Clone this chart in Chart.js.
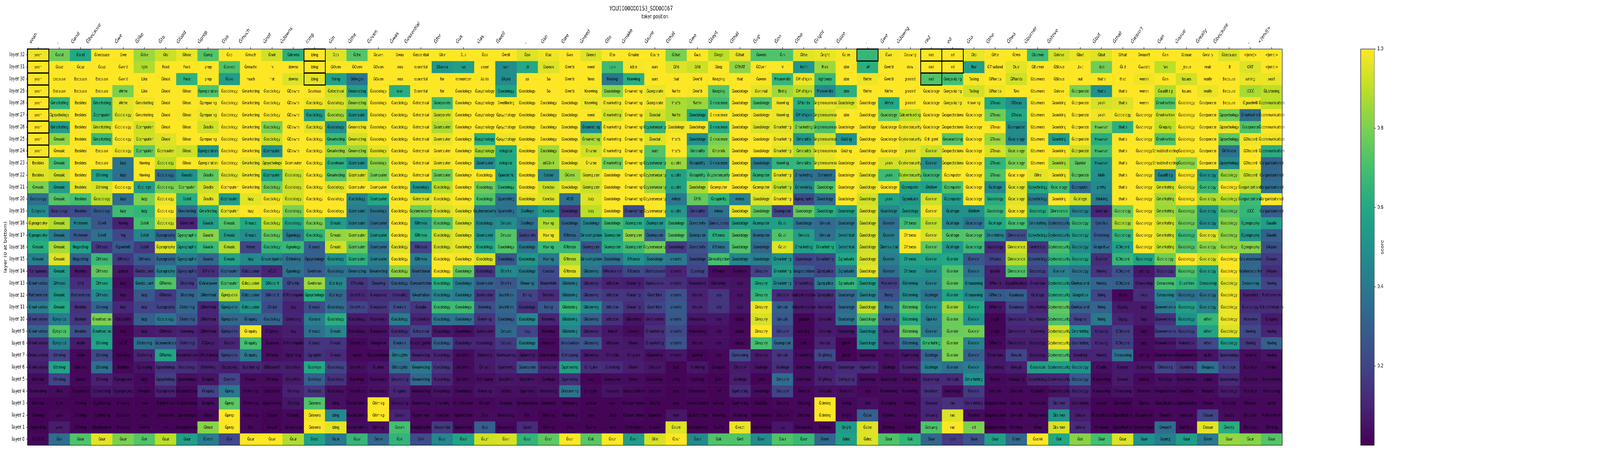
<!DOCTYPE html>
<html><head><meta charset="utf-8">
<style>html,body{margin:0;padding:0;background:#fff;overflow:hidden}#fig{position:absolute;left:0;top:0;width:5900px;height:1155px;transform-origin:0 0}canvas{position:absolute;top:0}</style>
<script src="https://cdn.jsdelivr.net/npm/chart.js@4"></script>
</head><body>
<div id="fig">
<canvas id="main" width="4830" height="1155" style="left:0;width:4830px;height:1155px"></canvas>
<canvas id="cbar" width="1070" height="1155" style="left:4830px;width:1070px;height:1155px"></canvas>
</div>
<script>
document.getElementById('fig').style.transform=`scaleX(${Math.min(1,window.innerWidth/5900)})`;
const titleText="YOU1000000153_S0000067";
const xTitle="token position";
const yTitle="layer (0 at bottom)";
const cbarTitle="score";
const xTokens=["yeah",".","Ġand","Ġbecause","Ġwe","Ġlike","Ġto","Ġfood","Ġprep","Ġso","Ġmuch","Ġnot","Ġdowns","izing","Ġin","Ġthe","Ġoven","Ġwas","Ġessential","Ġfor","Ġus","Ġas","Ġwell",".","Ġso","Ġwe","Ġneed","Ġto","Ġmake","Ġsure","Ġthat","Ġwe","Ġkept","Ġthat","Ġup","Ġon","Ġthe","Ġright","Ġsize",".","Ġwe","Ġdowng","rad","ed","Ġto","Ġthe","Ġtwo","Ġburner","Ġstove",".","Ġbut","Ġthat","Ġwasn't","Ġan","Ġissue","Ġreally","Ġbecause",".","<|end|>"];
const layers=[32,31,30,29,28,27,26,25,24,23,22,21,20,19,18,17,16,15,14,13,12,11,10,9,8,7,6,5,4,3,2,1,0];
// cells where the top token matches the input: [column, layer]
const boxedCells=[[0,32],[0,31],[0,30],[0,29],[0,28],[0,27],[0,26],[0,25],[0,24],[13,32],[13,31],[13,30],[39,32],[42,32],[42,31],[42,30],[43,32],[43,31]];

// each column lists layer 32 down to layer 0
const t00=["yeah","yeah","yeah","yeah","yeah","yeah","yeah","yeah","yeah","Besides","Besides","Ġmusic","Ġsociology","Ġphysics","Ġgeography","Ġgeography","Ġmusic","Ġmusic","Companies","Ġmotivation","Furthermore","Ġmotivation","Ġmotivation","Ġmotivation","Ġmotivation","Ġmotivations","Ġmotivation","Ġmorals","Ġreasoning","Ġmorals","Ġtiming","Regarding",".ĊĊĊĊĊĊ"];
const s00=[.98,1,1,1,1,1,1,1,.99,.97,.95,.8,.37,.48,.93,.58,.62,.42,.14,.3,.27,.42,.2,.32,.1,.1,.08,.03,.04,.01,.01,.01,.02];
const t01=["Ġand","Ġcuz","because","Because","Ġmarketing","Ġpsychology","Ġmarketing","Ġmusic","Ġmusic","Ġmusic","Ġmusic","Ġmusic","Ġmusic","Ġsociology","Ġmusic","Ġmusic","Ġmusic","Ġmusic","Ġmusic","Ġfitness","Ġmusic","Ġmusic","Ġphysics","Ġphysics","Ġphysics","Ġtiming","Ġtiming","Ġtiming","Ġtax","Und","yeah","yeah","Ġsk"];
const s01=[.78,1,1,1,.65,.95,.55,.83,1,.7,.93,.55,.73,.2,.88,.4,.87,.95,.55,.48,.52,.6,.42,.72,.43,.2,.58,.2,.03,.01,.02,.08,.35];
const t02=["Ġand","Ġcuz","Because","Because","Besides","Besides","Besides","Besides","Besides","Besides","Besides","Besides","Besides","Besides","Moreover","Moreover","Regarding","Regarding","Besides","Und","Furthermore","Besides","Besides","Besides","Aside","Aside","Ġatomic","Ġaudio","Ġargument","Ġtiming","Ġtiming","Ġtiming","Ġsur"];
const s02=[.6,1,1,1,1,1,1,1,1,1,1,.96,.7,.23,.43,.27,.57,.31,.07,.13,.2,.14,.15,.24,.07,.02,.02,.02,.01,.01,.01,.01,.72];
const t03=["Ġbecause","Ġcuz","Because","Because","Ġmarketing","Ġcomputer","Ġmarketing","Ġmarketing","Because","Because","Ġtiming","Ġtiming","Ġsociology","Ġsociology","Ġcivil","Ġcivil","Ġfitness","Ġfitness","Ġfitness","Ġfitness","Ġfitness","Ġtiming","Ġmotivation","Ġmotivation","Ġtiming","Ġtiming","Ġtiming","Ġtiming","Ġreasoning","Ġgathering","Ġgathering","Ġjustification","Ġsur"];
const s03=[1,1,1,1,.64,.64,.92,.68,1,1,.55,.94,.9,.28,.27,.37,.16,.67,.75,.6,.47,.32,.8,.56,.58,.22,.36,.09,.06,.01,.01,.01,.96];
const t04=["Ġwe","Ġwe'd","Ġwe'd","We're","We're","Ġsociology","Ġsociology","Ġsociology","Ġsociology","lazy","lazy","Ġsociology","lazy","lazy","Having","fog","Ġgoodwill","Ġfitness","quisite","lazy","lazy","lazy","Ġstupidity","lazy",">ĊĊĊ","Ġpacking","Besides","Ġgeography","Ġgeography","Knowing","Because","Because","Ġsur"];
const s04=[1,1,1,.8,.96,.95,1,1,.98,.38,.36,1,.35,.68,.09,.21,.28,.16,.06,.03,.05,.11,.06,.01,.01,.01,.02,.05,.05,.01,.01,.01,.8];
const t05=["Ġlike","light","Like","Like","Ġmarketing","Ġmarketing","Ġcomputer","Ġcomputer","Ġcomputer","Having","Having","Ġcollege","lazy","lazy","Ġcivil","Ġcivil","Ġcivil","Ġfitness","Ġrestaurant","Ġrestaurant","lazy","lazy","lazy","lazy","Ġlistening","Ġlistening","Ġplanning","lazy","Ġinquiry","poor","only","Ġwe're","Ġsk"];
const s05=[.85,.88,1,1,.98,1,.92,.93,.75,1,1,.55,.8,.65,.7,.45,.17,.28,.17,.41,.27,.2,.3,.07,.36,.1,.05,.02,.02,.01,.01,.01,.73];
const t06=["Ġto","Food","Ġfood","Ġfood","Ġfood","Ġfood","Ġfood","Ġfood","Ġcomputer","Ġsociology","Ġsociology","Ġsociology","Ġsociology","Ġsociology","Ġsociology","Ġgeography","Ġgeography","Ġgeography","Ġgeography","ĠFlorida","ĠFlorida","Ġgeography","Ġsociology","ĠFlorida","Ġconvenience","ĠFlorida","Ġpsychology","Ġpsychology","Ġgeography","Ġdefinitions","Ġresearch","like","Ġsur"];
const s06=[.92,1,1,1,1,1,1,.95,.94,.9,.36,.8,.97,1,.93,.3,.95,.33,.45,.72,.17,.2,.38,.08,.3,.58,.15,.18,.09,.01,.01,.01,.9];
const t07=["Ġfood","Food","Food","Ġfood","Ġfood","Ġfood","Ġfood","Ġfood","Ġfood","Ġfood","Ġaudio","Ġcomputer","Ġcivil","Ġmarketing","Ġinternet","Ġgeographic","Ġgeographic","Ġgeographic","Ġgeographic","Ġhearing","Ġhearing","Ġlistening","Ġlistening","Ġviewing","Ġlistening","Ġexpectations","Ġsociology","Ġpsychology","Ġexpectations","Ġmotivations","Ġprotections","Ġexpectations","Ġsur"];
const s07=[.97,1,.64,1,1,.99,1,1,.92,1,.5,.8,.62,.35,.1,.7,.58,.42,.22,.18,.32,.33,.27,.09,.16,.07,.13,.04,.02,.01,.01,.01,.56];
const t08=["Ġprep","prep","prep","Ġpreparation","Ġpreparing","Ġpreparing","Ġradio","Ġpreparing","Ġpreparation","Ġpreparation","Ġradio","Ġradio","Ġradio","Ġmarketing","Ġaudio","Ġaudio","Ġaudio","Ġaudio","ĠMiami","ĠVancouver","ĠMontreal","ĠMontreal","ĠMontreal","ĠMontreal","ĠDjango","ĠProvidence","Ġthinking","Ġinquiry","Ġinquiry","Ġinquiry","Ġfood","Ġfood","Ġsemi"];
const s08=[.73,1,1,.72,.99,.97,.93,1,.53,.98,.75,.93,.96,.63,.55,.82,.67,.33,.13,.38,.36,.1,.1,.07,.08,.05,.09,.05,.2,.04,.02,.82,.42];
const t09=["Ġso","Ġsoooo","Ġsoo","Ġsociology","Ġsociology","Ġsociology","Ġsociology","Ġsociology","Ġsociology","Ġsociology","Ġsociology","Ġcomputer","Ġcomputer","Ġcomputer","Ġmusic","Ġmusic","Ġmusic","Ġmusic","Ġcomputer","Ġcomputer","Ġprejudice","Ġprejudice","Ġprejudice","Ġprejudice","Ġsocial","Ġprejudice","Ġcustoms","Ġsenior","Ġprep","Ġprep","Ġprep","Ġprep","Ġsk"];
const s09=[1,.72,.55,1,1,1,1,1,1,1,.96,1,.55,.97,.72,.55,.88,.57,.32,.7,.88,.43,.33,.2,.1,.22,.08,.2,.4,.74,1,1,.22];
const t10=["Ġmuch","Ġmucho","much","Ġmarketing","Ġmarketing","Ġmarketing","Ġmarketing","Ġmarketing","Ġmarketing","Ġmarketing","Ġmarketing","Ġmarketing","lazy","lazy","Ġmusic","Ġmusic","Never","lazy","Ġdiscussion","Ġdiscussion","Ġdiscussion","Ġdiscussion","Ġinquiry","Ġinquiry","Ġinquiry","Ġinquiry","Ġgathering","Ġmusic","Ġlistening","Ġlistening","Ġlistening","Ġso","Ġsur"];
const s10=[1,1,1,1,1,1,1,1,1,.97,.98,1,.96,1,.6,.48,.2,.47,.18,.9,.38,.52,.33,.99,.7,.4,.1,.03,.03,.02,.02,.02,1];
const t11=["Ġnot","'n","not","Ġsociology","Ġsociology","Ġsociology","Ġsociology","Ġsociology","Ġcomputer","Ġpsychology","Ġcomputer","Ġsociology","Ġsociology","Ġsociology","Ġsociology","Ġsociology","Ġsociology","Ġinvestigation",">ĊĊĊ","ĠDiscord","ĠDiscord","ĠRuby","Ġsociology","ĠDjango","ĠLaravel","ĠFlorida","ĠElizabeth","ĠFlorida","Ġstupidity","dependency","ĠMuch","Ġmuch","Ġsur"];
const s11=[.93,1,1,1,1,1,.8,.92,.5,.94,.58,.78,.98,1,.9,.76,.65,.45,.1,.55,.25,.23,.32,.06,.04,.04,.08,.03,.02,.02,.01,.01,1];
const t12=["Ġdowns","downs","downs","ĠDowns","ĠDowns","ĠDowns","ĠDowns","ĠDowns","ĠDowns","Ġcomputer","Ġsociology","Ġsociology","Ġsociology","Ġsociology","Ġsociology","Ġgeology","Ġgeology","Ġthinking","Ġgeology","ĠFlorida","ĠMinneapolis","lazy","Ġlistening","lazy","ĠMinneapolis","Ġplanning","Ġnutrition","Ġnutrition","Ġtiming","Ġtiming","Ġinquiry","Ġreasoning","Ġsur"];
const s12=[.63,1,.95,1,1,1,1,1,1,1,.92,.93,.93,.8,.6,.4,.67,.37,.38,.22,.13,.09,.1,.08,.06,.05,.08,.07,.09,.06,.02,.02,.88];
const t13=["izing","izing","izing","Ġcurious","Ġsociology","Ġsociology","Ġsociology","Ġsociology","Ġsociology","Ġsociology","Ġsociology","Ġsociology","Ġsociology","Ġsociology","Ġsociology","Ġsociology","Ġmusic","Ġpsychology","Ġveteran","Ġveteran","Ġpsychology","Ġmusic","Ġproud","Ġmusic","Ġmusic","Ġgraphic","Ġcollege","Ġcollege","Ġcollege","Ġdowns","Ġdowns","Ġdowns","Ġdec"];
const s13=[1,1,.96,1,.98,.55,.96,1,1,1,1,1,1,1,.8,.65,.3,.3,.3,.85,.62,.23,.42,.37,.15,.14,.6,.3,.15,.72,.98,1,.57];
const t14=["Ġon","ĠOven","Being","Ġelectrical","Ġsociology","Ġsociology","Ġsociology","Ġmarketing","Ġmarketing","Ġhardware","Ġmarketing","Ġsociology","Ġsociology","Ġsociology","Ġmusic","Ġmusic","Ġmusic","Ġsociology","Ġsociology","Ġcollege","Ġcollege","Ġsociology","Ġsociology","Ġmusic","Ġmusic","Ġmusic","Ġsociology","Ġsociology","Ġsociology","ising","izing","izing","Ġsur"];
const s14=[.95,1,.57,.93,.95,.87,.5,.68,.85,.63,.73,.95,1,1,.55,.84,.93,.5,.37,.46,.33,.35,.62,.45,.15,.12,.2,.14,.04,.04,.45,.96,.4];
const t15=["Ġthe","ĠOven","ĠOregon","Ġmarketing","Ġmarketing","Ġcomputer","Ġmarketing","Ġmarketing","Ġmarketing","Ġcomputer","Ġcomputer","Ġcomputer","Ġsociology","Ġcomputer","Ġcomputer","Ġcomputer","Ġcomputer","Ġcomputer","Ġmarketing","ĠFlorida","Ġnutrition","Ġnutrition","Ġsociology","Ġsociology","Ġnutrition","pector","Ġnutrition","Ġgeology","Ġnutrition","Ġexpectations","Ġexpectations","Ġexpectations","Ġsur"];
const s15=[.73,1,.38,.55,.85,.52,.98,.94,.85,.5,.93,1,.45,.42,.43,.85,.75,.63,.37,.15,.11,.2,.07,.04,.02,.02,.04,.02,.02,.02,.02,.03,.66];
const t16=["Ġoven","ĠOven","ĠOven","Ġsociology","Ġsociology","Ġsociology","Ġsociology","Ġsociology","Ġsociology","Ġsociology","Ġcomputer","Ġcomputer","Ġcomputer","Ġsociology","Ġcomputer","Ġcomputer","Ġcomputer","Ġcomputer","Ġmarketing","Ġhearing","Ġprejudice","Ġprejudice","Ġsociology","Ġprejudice","Ġlongtime","Ġconvenience","Ġjunior","Ġsociology","Ġsociology","Ġtiming","Ġtiming","Ġtiming","Ġrem"];
const s16=[1,1,1,1,1,1,1,1,.96,.83,.8,1,.6,.38,.36,.52,.36,.43,.37,.2,.13,.15,.08,.04,.04,.02,.06,.04,.04,1,1,.04,.33];
const t17=["Ġwas",".was",".was","was","Ġsociology","Ġsociology","Ġsociology","Ġsociology","Ġsociology","Ġsociology","Ġsociology","Ġsociology","Ġsociology","Ġsociology","Ġsociology","Ġsociology","Ġsociology","Ġsociology","Ġsociology","Ġsociology","Ġmorality","Ġmorals","Ġsociology","Ġsociology","Ġmorals","Ġthoughts","Ġthoughts","Ġreasoning","Ġinquiry","Ġreasoning","Ġoven","Ġoven","Ġsk"];
const s17=[1,1,1,.62,1,1,1,1,1,1,1,1,1,1,1,1,.96,1,.83,.3,.14,.24,.42,.14,.28,.4,.35,.13,.1,.06,.1,.7,.65];
const t18=["Ġessential","essential","essential","Essential","Ġelectrical","Ġelectrical","Ġelectrical","Ġelectrical","Ġelectrical","Ġelectrical","Ġelectrical","Ġsociology","Ġelectrical","Ġcybersecurity","Ġfitness","Ġfitness","Ġfitness","Ġfitness","Ġnutritional","Ġpresentation","ĠAustralian","Ġaudio","Ġmotivation","Ġelectrical","Ġinvestigation","Ġmarketing","Ġmarketing","Ġmarketing","Ġmarketing","Ġmarketing","Ġgrammar","Ġregistration","Ġrel"];
const s18=[1,1,1,1,1,1,1,1,1,1,1,.52,.95,.78,.52,.62,.2,.42,.33,.3,.33,.15,.1,.2,.06,.1,.4,.33,.03,.03,.02,.02,.23];
const t19=["Ġfor","ĠSauna","for","for","Ġcorporate","Ġcorporate","Ġcomputer","Ġcomputer","Ġcomputer","Ġcomputer","Ġcomputer","Ġsociology","Ġsociology","Ġsociology","Ġsociology","Ġsociology","Ġsociology","Ġsociology","Ġsociology","Ġsociology","Ġsociology","Ġsociology","Ġsociology","Ġsociology","Ġsociology","Ġsociology","Ġsociology","Ġsociology","Ġsociology","Ġmorality","Essential","Ġessential","Ġsur"];
const s19=[1,.52,1,1,.68,.93,.88,.97,1,.98,.78,.9,.98,.95,.73,.93,.94,1,1,.62,.45,.68,.38,.06,.3,.1,.15,.1,.05,.03,.02,.17,.45];
const t20=["Ġus","(us","remember","Ġsociology","Ġsociology","Ġsociology","Ġsociology","Ġsociology","Ġsociology","Ġsociology","Ġsociology","Ġsociology","Ġsociology","Ġsociology","Ġsociology","Ġsociology","Ġsociology","Ġsociology","Ġsociology","Ġsociology","Ġsociology","Ġsociology","Ġsociology","Ġsociology","Ġsociology","Ġnutrition","Ġnutrition","Ġnutrition","Ġsociology","Ġjustification","Ġprotection","Ġprotection","Ġsur"];
const s20=[1,.55,1,1,1,1,1,1,1,1,1,1,1,.97,.94,.96,.96,.99,.75,.42,.42,.68,.37,.04,.1,.03,.03,.03,.03,.02,.02,.02,.58];
const t21=["Ġas","asser","Aside","Ġpsychology","Ġpsychology","Ġpsychology","Ġpsychology","Ġpsychology","Ġpsychology","Ġcomputer","Ġsociology","Ġsociology","Ġsociology","Ġcybersecurity","Ġsociology","Ġcomputer","Ġsociology","Ġsociology","Ġsociology","Ġcomputer","Ġcomputer","Knowing","Ġviewing","Ġcomputer","Ġsociology","Ġlistening","Ġmusic","Ġshopping","Ġviewing","Ġforum","Ġus","Ġus","Ġsur"];
const s21=[1,1,1,1,1,1,1,.62,.87,.47,1,.77,.72,.42,.45,.5,.6,.94,.15,.3,.15,.24,.15,.08,.1,.07,.07,.04,.05,.02,.03,.3,.93];
const t22=["Ġwell","well","ĠKylie","Ġsociology","Ġwellbeing","Ġpsychology","Ġpsychology","Ġpsychology","rological","rological","Ġpediatric","Ġsociology","Ġparenting","Ġparenting","Ġmusic","Ġmusic","Ġsociology","Ġsociology","Ġhortic","Ġhortic","Ġnutrition","Ġnutrition","Ġsociology","Ġmusic","Ġmusic","Ġnetworking","Ġgathering","Ġnutrition","Ġethics","Ġcollege","Ġreasoning","Ġreasoning","Ġsur"];
const s22=[1,.48,.48,.58,1,1,1,.98,.6,.6,.55,.66,.38,.37,.48,.73,.72,.27,.47,.27,.33,.33,.3,.33,.17,.1,.1,.06,.04,.03,.03,.02,.94];
const t23=["Ġso",".O","so","Ġsociology","Ġsociology","Ġsociology","Ġsociology","Ġsociology","Ġsociology","Ġsociology","Ġsociology","Ġsociology","Ġsociology","Ġcollege","Ġcollege","Ġcorporate","Ġsociology","Ġsociology","Ġsociology","Ġhearing","Being","Ġsociology","Ġsociology","lazy","Ġsociology","Ġplanning","Ġcomputer","Ġnutrition","Ġgenetics","Ġcompetence","Well","Ġwell","Ġsur"];
const s23=[.95,.6,1,1,1,1,1,1,1,1,1,1,.97,.45,.37,.22,.4,.52,.42,.38,.2,.14,.45,.2,.42,.07,.28,.05,.04,.02,.02,.12,.65];
const t24=["Ġso","Ġsoooo","So","So","Ġsociology","Ġsociology","Ġsociology","Ġsociology","Ġsociology","æīĢä»¥","Conse","Conclus","Conclus","Conclus","Having","Having","Having","Having","Conclus","Meanwhile","Besides","Being","Knowing","Knowing","Moreover","Ġelectronics","Ġcomputer","Ġcollege","Ġreasoning","Ġsleeping","Ġtiming","Ġtiming","Ġsur"];
const s24=[.98,.95,1,1,1,1,1,1,.86,.85,.43,.92,.95,.57,.88,.97,.67,.4,.23,.2,.12,.27,.1,.03,.02,.03,.1,.04,.05,.02,.01,.01,.75];
const t25=["Ġwe","Ġwe'd","Ġwe'd","Ġwe'd","Ġsociology","Ġsociology","Ġsociology","Ġsociology","Ġsociology","Ġsociology","ĠGeek","Ġsociology","VOID","Ġsociology","Ġsociology","Ġfitness","Ġfitness","Ġfitness","Ġfitness","Ġlistening","Ġlistening","Ġlistening","Ġlistening","Ġlistening","Ġmotivation","Ġshopping","Ġgathering","Ġgathering","Ġreasoning","Ġlistening","Ġlistening","Ġso","Ġsur"];
const s25=[1,1,1,1,1,1,1,1,1,.98,.85,.97,.37,.15,.33,.33,.67,.88,.95,.42,.42,.66,.5,.45,.25,.2,.55,.13,.38,.02,.02,.01,1];
const t26=["Ġneed","need","Need","Knowing","Knowing","need","Ġmarketing","Ġmarketing","Ġnurse","Ġnurse","Ġcomputer","Ġcomputer","lazy","lazy","Ġsociology","Ġinvestigation","Ġcomputer","Ġinvestigation","Ġlistening","Ġlistening","Ġlistening","Ġlistening","Ġlistening","Ġlistening","Ġlistening","Ġlistening","Ġinquiry","lazy","Ġinquiry","without","you","Ġwe're","Ġsk"];
const s26=[.95,1,1,.99,.97,1,.5,.87,.93,.98,.95,.92,.95,.9,.45,.47,.25,.42,.38,.15,.2,.47,.3,.12,.27,.07,.13,.01,.02,.01,.01,.01,.74];
const t27=["Ġto","luck","Making","Ġsociology","Ġmarketing","Ġmarketing","Ġmarketing","Ġmarketing","Ġmarketing","Ġmarketing","Ġsociology","Ġsociology","Ġsociology","Ġsociology","Ġsociology","Ġcomputer","Ġcomputer","Ġsociology","ĠProvidence","stitution","stitution","stitution","stitution","itated","ĠDenver","ĠFlorida","Ġthinking","Ġcomputer","Ġinquiry","look","need","need","Ġsur"];
const s27=[1,.68,.4,.82,.98,.93,1,1,1,.78,1,1,1,1,.68,.58,.62,.37,.16,.09,.16,.22,.13,.06,.07,.07,.12,.03,.05,.01,.01,.01,1];
const t28=["Ġmake","ickle","Knowing","Ġmarketing","Ġmarketing","Ġmarketing","Ġmarketing","Ġmarketing","Ġmarketing","Ġmarketing","Ġmarketing","Ġmarketing","Ġmarketing","Ġmarketing","Ġcomputer","Ġcomputer","Ġcomputer","Ġfitness","Ġfitness","Ġhearing","Ġhearing","Ġhearing","Ġlistening","ometric","Ġhotel","Ġinquiry","Ġhotel","Ġhotel","Ġexpectations","Ġassumptions","Ġassumptions","Ġdefinitions","Ġsur"];
const s28=[1,.99,.63,1,1,1,1,1,1,1,1,1,1,.23,.62,.83,.68,.5,.22,.08,.15,.13,.05,.03,.06,.07,.08,.03,.03,.02,.02,.01,.55];
const t29=["Ġsure","sure","sure","Ġcorporate","Ġcorporate","Ġsocial","Ġcybersecurity","Ġsocial","sure","Ġcybersecurity","Ġcybersecurity","Ġcybersecurity","Ġcybersecurity","Ġcybersecurity","Ġcomputer","Ġcomputer","Ġcybersecurity","Ġsociology","Ġbehavioural","Ġpersuasion","Ġnutrition","Ġnutrition","Ġmotivation","Ġmarketing","Ġmarketing","Ġplanning","Ġinquiry","Ġsociology","Ġinquiry","Ġeditor","Ġopinion","Ġmake","Ġtie"];
const s29=[1,1,1,.97,.98,.93,.65,.95,.73,.66,.87,.85,1,1,.52,.33,.78,.43,.2,.14,.18,.2,.1,.13,.12,.04,.06,.02,.02,.01,.01,.01,.94];
const t30=["Ġthat","Ġi'd","that","We're","that's","We're","Ġsociology","that's","that's","quisite","quisite","quisite","mless","quisite","Ġsociology","Ġsociology","Ġsociology","ometric","ometric","ometric","ometric","ometric","ometric","ometric","ometric","ometric","bad","aring","sure","sure","sure","Ġsure","Ġsur"];
const s30=[.8,.95,1,1,.87,.88,.98,1,1,.85,.58,.58,.4,.53,.64,.73,.17,.4,.1,.13,.25,.28,.27,.22,.25,.06,.01,.01,.01,.01,.06,.95,1];
const t31=["Ġwe","Ġi'd","Ġwe'd","Ġwe'd","We're","Ġsociology","Ġsociology","Ġsociology","Ġmorality","Ġstupidity","Ġstupidity","Ġsociology","ĠFBI","Ġmorality","Ġcreativity","Ġcomputer","Ġcreativity","Ġsociology","Ġgeology","Ġreasoning","Ġmusic","Ġmusic","Ġreasoning","Ġreasoning","Ġmusic","queeze","Ġthinking","Ġgeology","Ġreasoning","Ġexpectations","Ġjustification","Ġcorrectness","Ġsur"];
const s31=[1,.92,1,.99,.85,.6,.99,.5,.7,.43,.68,.87,.76,.2,.35,.37,.25,.23,.2,.08,.09,.1,.06,.03,.04,.01,.06,.02,.02,.01,.01,.01,.47];
const t32=["Ġkept","Ġkep","Keeping","Keeping","Ġinnocence","Ġinnocence","Ġinnocence","Ġinnocence","Ġmorals","Ġinnocence","Ġcybersecurity","Ġcomputer","Ġstupidity","mless","Ġseriousness","Ġfitness","Ġfitness","Ġinvestigation","Ġfitness","Ġlistening","lazy","lazy","lazy","lazy","lazy","lazy","Ġenquiry","poor","url","without","Knowing","Ġwe're","Ġsk"];
const s32=[.9,1,1,.73,.68,1,.62,.8,.83,.42,.72,1,.65,.37,.28,.62,.38,.7,.03,.06,.15,.15,.06,.04,.04,.02,.02,.01,.01,.01,.01,.01,.72];
const t33=["Ġthat","ĠTHAT","that","Ġsociology","Ġsociology","Ġsociology","Ġsociology","Ġsociology","Ġsociology","Ġsociology","Ġsociology","Ġsociology","mless","Ġsociology","Ġsociology","Ġsociology","Ġsociology","Ġsociology","Ġveteran","lazy","lazy","lazy","ologic","ologic","ologic","Ġdreaming","Ġinquiry","Ġcollege","Ġgathering","Ġgathering","Ġtracking","Ġkept","Ġrel"];
const s33=[.97,.83,1,1,1,1,1,1,1,1,1,1,.43,.97,.57,.72,.72,.45,.03,.05,.05,.06,.02,.02,.02,.22,.07,.08,.12,.02,.02,.97,.72];
const t34=["Ġoven","ĠOven","Ġoven","Ġanimal","Ġsociology","Ġsociology","Ġsociology","Ġsociology","Ġsociology","Ġsociology","Ġcomputer","Ġcomputer","Ġsociology","Ġsociology","Ġcomputer","Ġcomputer","Ġsociology","Ġsociology","Ġinquiry","Ġinquiry","Ġinquiry","Ġinquiry","Ġinquiry","Ġinquiry","Ġinquiry","Ġinquiry","Ġcollege","quite","Ġsociology","Ġvalidity","Ġcorrectness","Ġcorrectness","Ġsur"];
const s34=[.72,1,.99,.96,.72,.98,.95,1,1,.42,.65,.97,.95,.75,.55,.38,.33,.42,.2,.6,.65,.97,.94,1,.7,.07,.05,.01,.03,.01,.01,.01,.48];
const t35=["Ġin","'n","Meanwhile","Being","Knowing","Knowing","Ġmarketing","Ġmarketing","Ġmarketing","Knowing","Ġmarketing","Ġmarketing","Ġmarketing","Ġcomputer","Ġcivil","Ġcivil","Ġcivil","Ġmarketing","Ġmarketing","Ġmarketing","Ġinquiry","Ġmusic","Ġmusic","Ġinquiry","Ġcomputer","Ġmusic","Ġcollege","Ġinquiry","Ġinquiry","Ġinquiry","Ġinquiry","-up","Ġsur"];
const s35=[.72,1,.66,.85,.98,.97,.96,.98,.96,.65,.96,.9,.98,.2,.56,.72,.95,.5,.55,.45,.12,.3,.27,.2,.33,.15,.13,.35,.2,.02,.01,.06,.72];
const t36=["Ġthe","front","ĠMichigan","ĠMichigan","ĠFlorida","ĠMichigan","Ġmarketing","Ġmorality","Ġmorality","Ġmorality","Ġmarketing","Ġchemistry","Ġgeography","Ġsociology","Ġsociology","Ġmusic","Ġmarketing","Ġsociology","Ġexpectations","Ġmarketing","Ġdiscrimination","Ġdiscrimination","queeze","ouncing","obb","Ġmarketing","Ġnutrition","Ġnutrition","Ġethics","Ġfooting","Ġfooting","Ġreasoning","Ġsur"];
const s36=[.96,.52,.98,.9,.63,.5,.8,.52,.87,.66,.38,.47,.22,.76,.38,.55,.55,.2,.3,.13,.07,.07,.01,.01,.01,.03,.03,.03,.02,.02,.02,.02,.67];
const t37=["Ġright","Ride","rightness","Meanwhile","Ġrighteousness","Ġrighteousness","Ġrighteousness","Ġrighteousness","Ġrighteousness","Ġrighteousness","Ġinternet","Ġsociology","Ġsociology","Ġsociology","Ġmusic","Ġmusic","Ġmarketing","Ġmarketing","Ġprejudice","Ġprejudice","Ġprejudice","Ġmorality","Ġmorals","Ġmorals","Ġmusic","Ġlighting","Ġlighting","Ġlighting","Ġmorals","Ġtiming","Ġtiming","Ġtiming","Ġrem"];
const s37=[.97,.85,.67,.47,.97,.93,.72,.93,.97,.96,.36,.72,.36,.62,.35,.38,.6,.22,.2,.42,.13,.1,.07,.07,.1,.22,.09,.09,.04,1,1,.02,.33];
const t38=["Ġsize","size","size","size","Ġsociology","size","Ġsociology","Ġsizing","Ġsizing","Ġsociology","Ġsociology","Ġsociology","Ġsociology","Ġsociology","Ġsociology","Ġelectrical","Ġelectrical","Ġgraduate","Ġgraduate","Ġgraduate","Ġsociology","Ġsociology","Ġsociology","Ġsociology","ghost","ghost","Ġsociology","Ġshopping","Ġconduct","Ġwing","Ġright","Ġright","Ġdec"];
const s38=[.99,1,1,.63,.94,1,1,.5,1,.99,1,1,1,.55,.4,.47,.5,.6,.4,.65,.33,.35,.38,.06,.01,.01,.12,.13,.04,.02,.02,.54,.56];
const t39=[".",".W","We're","We're","Ġsociology","Ġsociology","Ġsociology","Ġsociology","Ġsociology","Ġsociology","Ġsociology","Ġsociology","Ġsociology","Ġsociology","Ġsociology","Ġsociology","Ġsociology","Ġsociology","Ġsociology","Ġsociology","Ġsociology","Ġsociology","Ġsociology","Ġsociology","Ġsociology","Ġsociology","Ġgenetics","Ġsociology","size","size","Ġsize","Ġsize","Ġdec"];
const s39=[.66,.63,.98,1,1,1,1,1,1,1,.97,.97,.93,.95,.93,.94,.93,.94,.96,.55,.45,.9,.72,.5,.5,.04,.12,.03,.02,.04,.3,.95,.95];
const t40=["Ġwe","Ġwe'd","Ġwe'd","We're","We've","Ġsociology","Ġsociology","Ġsociology","Ġsociology","yeah","yeah","Ġsociology","yeah","Ġsociology","Ġsenior","Ġsenior","Ġbehavioral","Ġsenior","Ġsenior","Meanwhile","Being","Being","Knowing","Ġmusic","Ġmusic","Having","Ġcollege","Ġsociology","Ġreasoning","Ġsleeping","Ġtiming","Ġtiming","Ġsur"];
const s40=[.99,1,1,1,.6,.76,1,1,1,.93,.68,1,.57,.47,.36,.42,.45,.42,.36,.18,.25,.37,.23,.11,.12,.04,.04,.03,.03,.02,.02,.01,.72];
const t41=["Ġdowng","dow","graded","graded","graded","Ġdownloading","Ġcybersecurity","Ġcybersecurity","graded","Ġcybersecurity","Ġcybersecurity","Ġcomputer","Ġgraduate","Ġsociology","Ġfitness","Ġfitness","Ġfitness","Ġfitness","Ġfitness","Ġlistening","Ġlistening","Ġlistening","Ġlistening","Ġlistening","Ġlistening","Ġgathering","Ġplanning","Ġvisiting","Ġplanning","Ġtiming","Knowing","Ġwe're","Ġsk"];
const s41=[1,1,1,1,1,.9,.98,.97,.97,.95,.88,.58,.52,.55,.68,1,.99,.57,.52,.47,.47,.72,.62,.76,.37,.06,.1,.03,.03,.02,.02,.01,.65];
const t42=["rad","rad","rad","Ġsociology","Ġsociology","Ġsociology","Ġsociology","Ġdiligent","Ġsenior","Ġsenior","Ġsociology","Ġfellow","Ġsenior","Ġsenior","Ġsenior","Ġsenior","Ġsenior","Ġsenior","Ġsenior","Ġsenior","Ġcollege","Ġsenior","Ġjunior","Ġsenior","Ġmarketing","Ġcollege","Ġcollege","Ġsociology","Ġresident","Ġlawyer","Ġdowng","Ġdowng","Ġsur"];
const s42=[1,1,.72,1,1,1,1,1,.92,.48,.68,.55,.93,.98,.9,.94,.75,.58,.5,.46,.37,.5,.42,.4,.66,.32,.42,.12,.14,.11,.1,.72,.33];
const t43=["ed","ed","Ġorganizing","Ġorganizing","Ġorganizing","Ġexpectations","Ġexpectations","Ġresearching","Ġexpectations","Ġexpectations","Ġcomputer","Ġcomputer","Ġcomputer","Ġcollege","Ġcollege","Ġcollege","Ġcollege","Ġsenior","Ġsenior","Ġsenior","Ġsenior","Ġsenior","Ġsenior","Ġsenior","Ġsenior","Ġsenior","Ġsenior","Ġmorals","Ġsociology","rad","rad","rad","con"];
const s43=[1,1,.7,.99,.98,1,1,.73,.99,.97,1,.72,.55,.5,.47,.72,.52,.6,.72,.74,.58,.85,.77,.77,.8,.8,.37,.12,.03,.14,.95,1,.17];
const t44=["Ġto","Bur","Taking","Taking","Knowing","Ġsociology","Ġsociology","Ġsociology","Ġsociology","Ġsociology","Ġsociology","Ġsociology","Ġsociology","Ġfellow","Ġsociology","Ġsociology","Ġsociology","Ġsenior","Ġsenior","Ġreasoning","Ġreasoning","Ġsenior","Ġsenior","Ġsenior","Ġsenior","Ġsenior","Ġsenior","Ġmarketing","Ġsenior","Ġmarketing","Ġrocket","ed","Ġsur"];
const s44=[.97,.55,.99,.93,.99,1,1,1,1,1,1,1,1,.5,.37,.73,.67,.27,.37,.45,.47,.6,.5,.78,.43,.3,.42,.5,.17,.11,.03,.8,.25];
const t45=["Ġthe","ĠThailand","ĠFlorida","ĠFlorida","ĠTexas","ĠTexas","ĠTexas","ĠTexas","ĠTexas","ĠTexas","ĠTexas","Ġcollege","Ġsociology","Ġsociology","Ġcollege","Ġmarketing","Ġsociology","Ġfitness","quisite","ĠFlorida","ĠFlorida","ĠFlorida","ologic","ologic","ĠFlorida","Ġnutrition","Ġmarketing","Ġideas","Ġmorals","Ġexpectations","Ġexpectations","Ġexpectations","Ġsur"];
const s45=[1,1,1,.98,.6,.78,1,.85,.94,.65,.72,.47,.62,.67,.6,.45,.12,.2,.09,.08,.28,.05,.01,.01,.02,.06,.06,.02,.02,.02,.01,.01,.56];
const t46=["Ġtwo","Dual","ĠFlorida","Two","ĠTexas","ĠTexas","Ġcomputer","Ġsociology","Ġsociology","Ġsociology","Ġsociology","Ġsociology","Ġsociology","Ġsociology","Ġsociology","Ġinnocence","Ġinnocence","Ġinnocence","Ġinnocence","Ġqualifications","Ġjealousy","Ġjealousy","Ġinnocence","Ġinnocence","Ġinnocence","Ġmusic","Ġmusic","Ġshopping","Ġmorals","Ġmorals","Ġmorals","Ġtiming","Ġrem"];
const s46=[1,.96,.93,1,.5,.6,.48,.47,.85,.8,1,.95,.96,.98,.7,.24,.93,.88,.72,.07,.3,.2,.12,.1,.08,.2,.08,.03,.02,.02,.02,.02,.33];
const t47=["Ġburner","ĠBurner","Ġburners","Ġburners","Ġburners","Ġburners","Ġburners","Ġburners","Ġburners","Ġburners","Ġfire","Ġpsychology","Ġpsychology","Ġsociology","Ġmarketing","Ġpsychology","Ġelectrical","Ġpsychology","Ġsociology","Ġnutrition","Ġcollege","Ġmarketing","Ġconfusion","Ġviewing","Ġsociology","Ġsociology","Ġabsolute","Ġpsychology","Ġgenetic","Ġabsolute","Ġarguments","Ġtwo","Ġsemi"];
const s47=[.68,1,1,1,1,1,1,1,1,1,.96,.6,.42,.62,.42,.52,.15,.25,.2,.1,.13,.1,.13,.1,.08,.08,.55,.1,.02,.02,.02,.02,1];
const t48=["Ġstove","ĠStove","ĠStove","Ġstove","Ġcooking","Ġcooking","Ġcooking","Ġcooking","Ġcooking","Ġcooking","Ġcooking","Ġsociology","Ġcooking","Ġinnocence","Ġcybersecurity","Ġcybersecurity","Ġcybersecurity","Ġcybersecurity","Ġsenior","Ġcybersecurity","Ġcybersecurity","Ġcybersecurity","Ġcybersecurity","Ġcybersecurity","Ġcybersecurity","Ġcybersecurity","Ġcybersecurity","Ġcybersecurity","Ġcybersecurity","Ġburner","Ġburner","Ġburner","Ġsk"];
const s48=[.94,1,1,1,1,1,1,.55,1,.87,.98,.68,1,.68,.35,.48,.7,.65,.42,.57,.62,.75,.72,.92,.96,.72,.55,.11,.05,.14,.52,.94,.6];
const t49=["Ġbut",",but","but","Ġcorporate","Ġcorporate","Ġcorporate","Ġcorporate","Ġcorporate","Ġcorporate","Ġjunior","Ġcorporate","Ġcomputer","Ġcollege","Ġsociology","Ġsociology","Ġsociology","Ġsociology","Ġsociology","Ġsociology","Ġbehavioral","Ġcognitive","Ġbehavioral","Ġinquiry","Ġmarketing","Ġmarketing","Ġcooking","Ġsociology","Ġsociology","Ġsociology","Ġmarketing","Ġstove","Ġstove","Ġsk"];
const s49=[.97,1,1,.8,1,1,1,.99,.93,.75,.75,.36,.93,.45,.65,.55,.48,.58,.38,.4,.45,.3,.2,.5,.2,.1,.5,.28,.1,.06,.08,.12,.82];
const t50=["Ġbut",".but","that's","that's","yeah","yeah","However","However","However","However","blah","pretty","thinking","Ġmorals","Conclus","Ġlistening","Ġcognitive","Ġsenior","Having","Having","Being","Being","Being","Knowing","Knowing","Having","Ġradio","Ġreasoning","Ġreasoning","queeze","Ġconstitution","Moreover","Ġsur"];
const s50=[.95,.78,1,.5,.94,.98,.8,.62,.7,.52,.5,.47,.42,.1,.28,.3,.35,.13,.15,.32,.2,.32,.4,.12,.12,.1,.04,.02,.03,.01,.01,.01,.7];
const t51=["Ġthat","Ġi'd","that","that's","that's","Ġsociology","that's","that's","that's","that's","that's","that's","that's","Ġsociology","Ġsociology","Ġsociology","ĠDiscord","ĠDiscord","ĠDiscord","ĠDiscord","sticky","ĠLucky","ĠLazy","ĠDiscord","ĠDiscord","Ġreasoning","Ġmusic","Ġmusic","Ġreasoning","Ġprotection","Ġjustification","Ġjustification","Ġsur"];
const s51=[1,1,1,1,.95,.98,.63,1,1,1,1,1,1,.77,.87,.65,.56,.66,.26,.3,.02,.07,.1,.18,.18,.37,.07,.07,.05,.01,.01,.01,.95];
const t52=["Ġwasn't","Ġwasnt","weren","weren","weren","Ġsociology","Ġsociology","Ġsociology","Ġsociology","Ġsociology","Ġsociology","Ġsociology","Ġsociology","Ġsociology","Ġsociology","Ġsociology","Ġsociology","Ġsociology","uming","Ġreasoning","okay","lazy","lazy","lazy","lazy","uming","Ġlistening","unless","Ġfairness","Ġgrace","Ġargument","Ġcorrectness","Ġsur"];
const s52=[1,1,.98,1,1,1,1,1,1,1,1,1,1,1,1,1,1,.58,.06,.1,.13,.07,.07,.03,.03,.02,.06,.02,.03,.02,.01,.01,.5];
const t53=["Ġan","'an","Ġan","Ġauditing","Ġmotivation","Ġmotivation","Ġinquiry","Ġmotivation","Ġtroubleshooting","Ġtroubleshooting","Ġauditing","Ġmarketing","Ġmarketing","Ġmarketing","Ġmarketing","Ġmarketing","Ġmarketing","Ġsociology","Ġsociology","Ġreasoning","Ġreasoning","Ġconvenience","Ġconvenience","Ġconvenience","Ġconvenience","Ġconvenience","Ġthinking","Ġcollege","Ġexpectations","Ġjustification","Ġwasn't","Ġwasn't","Ġcomp"];
const s53=[1,.9,1,.88,.72,.92,.9,.72,.98,.98,.45,.93,.86,.85,.92,.93,.9,.78,.15,.7,.45,.4,.14,.2,.06,.03,.2,.04,.03,.02,.02,.35,.42];
const t54=["Ġissue","_issue","Issues","Issues","Ġsociology","Ġsociology","Ġsociology","Ġsociology","Ġsociology","Ġsociology","Ġsociology","Ġsociology","Ġsociology","Ġsociology","Ġsociology","Ġsociology","Ġsociology","Ġsociology","Ġsociology","Ġnutrition","Ġsociology","Ġsociology","Ġsociology","Ġsociology","Ġelectrical","Ġconvenience","Ġcooking","Ġelectronics","Ġoutdoor","Ġgleichzeitig","Ġmorals","Ġartificial","Ġsur"];
const s54=[1,1,.93,1,1,1,1,1,1,.83,1,.97,1,.8,.78,.68,.73,1,.72,.65,.36,.55,.5,.2,.1,.02,.15,.03,.02,.02,.02,.02,.55];
const t55=["Ġreally","reak","really","really","Ġcorporate","Ġcorporate","Ġcorporate","Ġcorporate","Ġcorporate","Ġcorporate","Ġsociology","Ġsociology","Ġsociology","Ġsociology","Ġsociology","Ġsociology","Ġsociology","Ġsociology","Ġsociology","Ġreasoning","Ġsociology","Ġsociology","other","other","other","quite","Ġinquiry","organ","Ġinquiry","Ġissue","Ġissue","Ġissue","Ġrem"];
const s55=[1,1,1,.97,1,1,1,1,1,1,.52,.67,.88,.52,.5,.95,.82,.93,.58,.57,.37,.45,.66,.58,.22,.05,.37,.03,.03,.02,.2,.96,.4];
const t56=["Ġbecause",".B","Because","Because","Because","Ġpsychology","Ġpsychology","Ġpsychology","ĠChinese","Ġpsychology","Ġsociology","Ġsociology","Ġsociology","Ġsociology","Ġsociology","Ġsociology","Ġsociology","Ġsociology","Ġsociology","Ġsociology","Ġsociology","Ġsociology","Ġsociology","Ġsociology","Ġsociology","Ġpsychology","Ġcollege","Ġpsychology","Ġsociology","Ġcollege","Ġreally","Ġreally","Ġsur"];
const s56=[.95,1,1,1,1,.78,.97,.75,.38,.48,.85,1,.9,.75,.82,.83,.85,1,1,.95,.98,.97,.97,.95,.55,.15,.2,.12,.07,.02,.03,.62,.84];
const t57=["<|end|>","ORT","uming","]ĊĊĊ","Ġgoodwill","Ġmotivation","Ġcorporate","ĠDiscord","ĠDiscord","ĠDiscord","ĠDiscord","Ġorganizational","Ġorganizational","]ĊĊĊ","Ġgeography","Ġgeography","Ġgeography","Ġneuroscience","Ġcybersecurity","Ġreasoning","Ġgenetics","Ġsociology","Moreover","Having","Having","controls","Ġcollege","Ġcollege","Ġcollege","ĠFlorida","Because","Because","Ġsur"];
const s57=[1,.95,.97,.87,.98,.36,.72,.98,1,1,.93,.9,.68,.66,.63,.52,.82,.33,.33,.38,.1,.13,.17,.22,.16,.03,.03,.03,.03,.02,.02,.02,.82];
const t58=["<|end|>","<|end|>","yeah","ĠListening","Ġcommunication","Ġcommunication","Ġcommunication","Ġcommunication","Ġcommunication","Ġorganizational","Ġorganizational","Ġorganizational","Ġorganizational","Ġorganizational","Ġaudio","Ġaudio","ĠAzure","Ġneuro","ĠAzure","Having","Furthermore","Ġdiscrimination","Ġinquiry","Having","Having","Having","Under","Ġelectronics","Ġreasoning","Aside","Furthermore","Ġtiming","Ġsur"];
const s58=[1,1,.97,.9,.9,1,1,.98,.62,.32,.33,.36,1,.3,.55,.3,.24,.17,.13,.2,.12,.13,.07,.1,.3,.05,.03,.03,.03,.02,.02,.02,.73];

const tokenCols=[t00,t01,t02,t03,t04,t05,t06,t07,t08,t09,t10,t11,t12,t13,t14,t15,t16,t17,t18,t19,t20,t21,t22,t23,t24,t25,t26,t27,t28,t29,t30,t31,t32,t33,t34,t35,t36,t37,t38,t39,t40,t41,t42,t43,t44,t45,t46,t47,t48,t49,t50,t51,t52,t53,t54,t55,t56,t57,t58];
const scoreCols=[s00,s01,s02,s03,s04,s05,s06,s07,s08,s09,s10,s11,s12,s13,s14,s15,s16,s17,s18,s19,s20,s21,s22,s23,s24,s25,s26,s27,s28,s29,s30,s31,s32,s33,s34,s35,s36,s37,s38,s39,s40,s41,s42,s43,s44,s45,s46,s47,s48,s49,s50,s51,s52,s53,s54,s55,s56,s57,s58];

const viridisStops=[[68,1,84],[72,36,117],[65,68,135],[53,95,141],[42,120,142],[33,145,140],[34,168,132],[68,191,112],[122,209,81],[189,223,38],[253,231,37]];
function viridis(v){const p=Math.max(0,Math.min(1,v))*10,i=Math.min(9,Math.floor(p)),f=p-i,a=viridisStops[i],b=viridisStops[i+1];
  return `rgb(${Math.round(a[0]+(b[0]-a[0])*f)},${Math.round(a[1]+(b[1]-a[1])*f)},${Math.round(a[2]+(b[2]-a[2])*f)})`;}

const FONT='"DejaVu Sans"';
const TICK_PX=13.89, CELL_PX=11.11, TITLE_PX=16.67, SPINE=1.1, TICK_LEN=4.86;
Chart.defaults.font.family=FONT;
Chart.defaults.color='#000';
Chart.defaults.animation=false;

const heatOverlay={id:'heatOverlay',
 afterDatasetsDraw(chart){
  const {ctx,scales:{x,y}}=chart;
  ctx.save();
  ctx.font=`${CELL_PX}px ${FONT}`;ctx.fillStyle='#000';ctx.textAlign='center';ctx.textBaseline='alphabetic';
  tokenCols.forEach((col,c)=>{const px=x.getPixelForTick(c);
    col.forEach((tok,r)=>{ctx.fillText(tok,px,y.getPixelForValue(layers[r])+3.4);});});
  const halfW=(x.getPixelForTick(1)-x.getPixelForTick(0))/2;
  ctx.strokeStyle='#000';ctx.lineWidth=2.78;
  boxedCells.forEach(([c,l])=>{const px=x.getPixelForTick(c),t=y.getPixelForValue(l+.5),b=y.getPixelForValue(l-.5);
    ctx.strokeRect(px-halfW,t,halfW*2,b-t);});
  ctx.restore();
 },
 afterDraw(chart){
  const {ctx,scales:{x},chartArea:a}=chart;
  ctx.save();
  ctx.strokeStyle='#000';ctx.lineWidth=SPINE;ctx.strokeRect(a.left,a.top,a.right-a.left,a.bottom-a.top);
  ctx.font=`${TICK_PX}px ${FONT}`;ctx.fillStyle='#000';ctx.textAlign='center';ctx.textBaseline='middle';
  const bottomY=a.top-TICK_LEN*2, h=TICK_PX*1.16, k=Math.SQRT1_2;
  xTokens.forEach((tok,i)=>{const w=ctx.measureText(tok).width, W=(w+h)*k;
    ctx.save();ctx.translate(x.getPixelForTick(i)-W/2,bottomY-W/2);ctx.rotate(-Math.PI/4);ctx.fillText(tok,0,0);ctx.restore();});
  ctx.restore();
 }};

const datasets=layers.map((layer,r)=>({
  label:'layer '+layer,
  data:xTokens.map(()=>[layer-.5,layer+.5]),
  backgroundColor:scoreCols.map(s=>viridis(s[r])),
  borderWidth:0,grouped:false,barPercentage:1,categoryPercentage:1
}));

new Chart(document.getElementById('main'),{
 type:'bar',
 data:{labels:xTokens,datasets},
 options:{responsive:false,devicePixelRatio:1,animation:false,
  layout:{padding:{left:0,top:0,right:101.5,bottom:14.7}},
  plugins:{legend:{display:false},tooltip:{enabled:false},
   title:{display:true,text:titleText,color:'#000',font:{size:TITLE_PX,weight:'normal',family:FONT,lineHeight:1.2},padding:{top:13,bottom:0}}},
  scales:{
   x:{type:'category',position:'top',offset:true,
      grid:{offset:false,drawOnChartArea:false,drawTicks:true,tickLength:TICK_LEN,tickColor:'#000',tickWidth:SPINE},
      border:{display:false},
      ticks:{display:false,autoSkip:false,maxRotation:0},
      title:{display:true,text:xTitle,color:'#000',font:{size:TICK_PX,family:FONT},padding:{top:1.7,bottom:0}},
      afterFit(s){s.height=92.5;}},
   y:{type:'linear',position:'left',min:-.5,max:32.5,
      grid:{drawOnChartArea:false,drawTicks:true,tickLength:TICK_LEN,tickColor:'#000',tickWidth:SPINE},
      border:{display:false},
      afterBuildTicks(s){s.ticks=layers.map(v=>({value:v}));},
      ticks:{autoSkip:false,padding:TICK_LEN,color:'#000',font:{size:TICK_PX,family:FONT},callback:v=>'layer '+v},
      title:{display:true,text:yTitle,color:'#000',font:{size:TICK_PX,family:FONT},padding:{top:11.7,bottom:0}},
      afterFit(s){s.width=101.3;}}
  }},
 plugins:[heatOverlay]
});

const cbarOverlay={id:'cbarOverlay',afterDraw(chart){
  const {ctx,chartArea:a}=chart;
  ctx.save();ctx.strokeStyle='#000';ctx.lineWidth=SPINE;ctx.strokeRect(a.left,a.top,a.right-a.left,a.bottom-a.top);
  ctx.translate(a.right+30,(a.top+a.bottom)/2);ctx.rotate(-Math.PI/2);
  ctx.font=`${TICK_PX}px ${FONT}`;ctx.fillStyle='#000';ctx.textAlign='center';ctx.textBaseline='middle';ctx.fillText(cbarTitle,0,0);
  ctx.restore();
}};
const cbarTicks=[.2,.4,.6,.8,1];
new Chart(document.getElementById('cbar'),{
 type:'bar',
 data:{labels:[cbarTitle],datasets:[{data:[[0,1]],borderWidth:0,barPercentage:1,categoryPercentage:1,
   backgroundColor(c){const a=c.chart.chartArea;if(!a)return '#000';
     const g=c.chart.ctx.createLinearGradient(0,a.bottom,0,a.top);
     viridisStops.forEach((_,i)=>g.addColorStop(i/10,viridis(i/10)));return g;}}]},
 options:{responsive:false,devicePixelRatio:1,animation:false,
  layout:{padding:{left:187.4,top:125.5,bottom:14.7,right:0}},
  plugins:{legend:{display:false},tooltip:{enabled:false}},
  scales:{
   x:{display:false,offset:true},
   y:{type:'linear',position:'right',min:0,max:1,
      grid:{drawOnChartArea:false,drawTicks:true,tickLength:TICK_LEN,tickColor:'#000',tickWidth:SPINE},
      border:{display:false},
      afterBuildTicks(s){s.ticks=cbarTicks.map(v=>({value:v}));},
      ticks:{padding:TICK_LEN+1,color:'#000',font:{size:TICK_PX,family:FONT},callback:v=>v.toFixed(1)},
      afterFit(s){s.width=832;}}
  }},
 plugins:[cbarOverlay]
});
</script>
</body></html>
